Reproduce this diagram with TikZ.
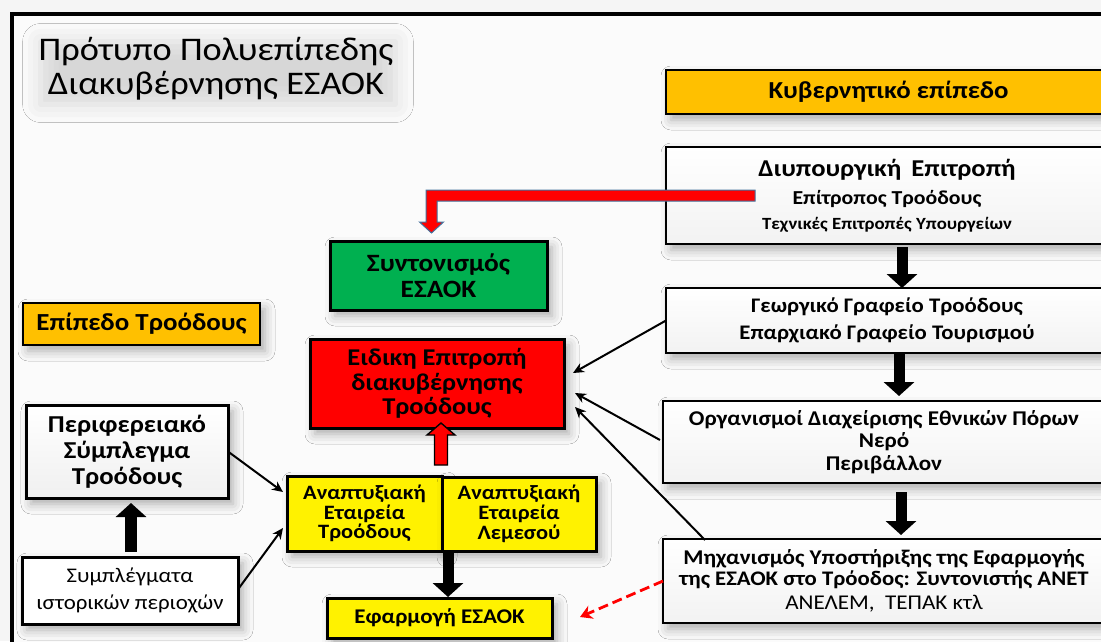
\documentclass[tikz,border=0pt]{standalone}
\usepackage{fontspec}
\setmainfont{Carlito}[FakeStretch=1.1]
\usetikzlibrary{arrows.meta,shadows.blur,calc}
\definecolor{govorange}{HTML}{FFC000}
\definecolor{esgreen}{HTML}{00B050}
\definecolor{outlineblue}{HTML}{41719C}
\newcommand{\fsz}[1]{\fontsize{#1}{#1}\selectfont}
\begin{document}
\begin{tikzpicture}[x=1pt,y=-1pt,
  shd/.style={blur shadow={shadow xshift=5pt,shadow yshift=-6pt,shadow blur radius=10pt,shadow opacity=32}},
  rbox/.style={draw,line width=1.1pt,outer sep=0pt,top color=white,bottom color=gray!10,anchor=north west,align=center,inner sep=0pt,shd},
  tbox/.style={draw,line width=3pt,outer sep=0pt,anchor=north west,align=center,inner sep=0pt,shd},
  obox/.style={draw,line width=1.4pt,outer sep=0pt,fill=govorange,anchor=north west,align=center,inner sep=0pt,shd},
  thinarrow/.style={line width=2pt,-{Stealth[length=11pt,width=10pt]}},
  blockarrow/.style={line width=11pt,-{Triangle[length=14pt,width=30pt]}},
]
\useasboundingbox (0,0) rectangle (1101,641);
\clip (0,0) rectangle (1101,641);
\fill[gray!8] (0,0) rectangle (1101,641);
\fill[gray!3] (12,14) rectangle (1130,660);
\draw[line width=4pt] (12,14) rectangle (1130,660);

% title
\node[align=center,inner sep=0pt,font=\fsz{33},blur shadow={shadow xshift=2pt,shadow yshift=-4pt,shadow blur radius=18pt,shadow opacity=14}] (title) at (216,69)
  {Πρότυπο Πολυεπίπεδης\\[1pt]Διακυβέρνησης ΕΣΑΟΚ};

% government level (right column)
\node[obox,minimum width=445,minimum height=44,font=\fsz{24.4}\bfseries] (kyv) at (666,70)
  {Κυβερνητικό επίπεδο};
\node[rbox,minimum width=442,minimum height=97] (diy) at (666,147)
  {\fsz{24.2}\bfseries Διυπουργική\, Επιτροπή\\[9pt]
   \fsz{19.8}\bfseries Επίτροπος Τροόδους\\[9pt]
   \fsz{17.1}\bfseries Τεχνικές Επιτροπές Υπουργείων};
\node[rbox,minimum width=442,minimum height=65,font=\fsz{20.7}\bfseries] (geo) at (666,288)
  {Γεωργικό Γραφείο Τροόδους\\[6.3pt]Επαρχιακό Γραφείο Τουρισμού};
\node[rbox,minimum width=442,minimum height=82,font=\fsz{21}\bfseries] (org) at (663,401)
  {Οργανισμοί Διαχείρισης Εθνικών Πόρων\\[1.5pt]Νερό\\[1.5pt]Περιβάλλον};
\node[rbox,minimum width=442,minimum height=84] (mech) at (663,539)
  {\fsz{21}\bfseries Μηχανισμός Υποστήριξης της Εφαρμογής\\[1.3pt]
   \fsz{20.7}\bfseries της ΕΣΑΟΚ στο Τρόοδος: Συντονιστής ΑΝΕΤ\\[6pt]
   \fsz{21}ΑΝΕΛΕΜ,\ \ ΤΕΠΑΚ κτλ};

% Troodos level (left)
\node[obox,minimum width=237,minimum height=42,font=\fsz{24.5}\bfseries] (epi) at (23,303)
  {Επίπεδο Τροόδους};
\node[tbox,fill=esgreen,minimum width=217,minimum height=69,font=\fsz{24.9}\bfseries] (syn) at (330,241)
  {Συντονισμός\\[1pt]ΕΣΑΟΚ};
\node[tbox,fill=red,minimum width=254,minimum height=89,font=\fsz{24.1}\bfseries] (eid) at (310,339)
  {Ειδικη Επιτροπή\\[0.4pt]διακυβέρνησης\\[0.4pt]Τροόδους};
\node[tbox,top color=white,bottom color=gray!12,minimum width=202,minimum height=93,font=\fsz{24.3}\bfseries] (per) at (26,405)
  {Περιφερειακό\\[1.7pt]Σύμπλεγμα\\[1.7pt]Τροόδους};
\node[tbox,fill=white,minimum width=216,minimum height=67,font=\fsz{20.8}] (sym) at (22,557)
  {Συμπλέγματα\\[6.2pt]ιστορικών περιοχών};
\node[tbox,fill=yellow,minimum width=155,minimum height=75,font=\fsz{20.4}\bfseries] (yl) at (287,476)
  {Αναπτυξιακή\\[-0.6pt]Εταιρεία\\[-0.6pt]Τροόδους};
\node[tbox,fill=yellow,minimum width=154,minimum height=74,font=\fsz{20.4}\bfseries] (yr) at (442,477)
  {Αναπτυξιακή\\[-0.6pt]Εταιρεία\\[-0.6pt]Λεμεσού};
\node[tbox,fill=yellow,minimum width=225,minimum height=40,font=\fsz{20.9}\bfseries] (efa) at (327,598)
  {Εφαρμογή ΕΣΑΟΚ};

% block arrows in right column
\coordinate (a1) at ($(diy.south)+(15,3)$);
\draw[blockarrow] (a1) -- (a1 |- geo.north);
\coordinate (a2) at ($(geo.south)+(12,1)$);
\draw[blockarrow] (a2) -- ([yshift=5pt]a2 |- org.north);
\coordinate (a3) at ($(org.south)+(17,9)$);
\draw[blockarrow] (a3) -- ([yshift=4pt]a3 |- mech.north);
% block arrows on the left
\coordinate (a4) at ($(sym.north)+(1,-5)$);
\draw[line width=12pt,-{Triangle[length=14pt,width=30pt]}] (a4) -- ([yshift=-5pt]a4 |- per.south);
\coordinate (a5) at ($(yl.south east)+(6,2)$);
\draw[blockarrow] (a5) -- ([yshift=1pt]a5 |- efa.north);

% red up arrow (Anaptyxiaki -> Eidiki)
\coordinate (ru) at ($(eid.south)+(4,0)$);
\draw[fill=red,line width=1.4pt,line join=miter]
  ($(ru)+(-6.5,37)$) -- ($(ru)+(-6.5,7)$) -- ($(ru)+(-14,7)$) -- ($(ru)+(0,-5)$)
  -- ($(ru)+(14,7)$) -- ($(ru)+(6.5,7)$) -- ($(ru)+(6.5,37)$) -- cycle;

% bent red arrow (Diyp. -> Syntonismos)
\coordinate (bs) at ($(diy.north west)+(89,43)$);
\coordinate (bt) at ($(syn.north)+(-7,-8)$);
\draw[fill=red,draw=outlineblue,line width=1pt,line join=miter]
  (bs) -- ($(bt)+(-5.5,-43)$) -- ($(bt)+(-5.5,-11)$) -- ($(bt)+(-12,-11)$) -- (bt)
  -- ($(bt)+(12,-11)$) -- ($(bt)+(5.5,-11)$) -- ($(bt)+(5.5,-32)$) -- ($(bs)+(0,11)$) -- cycle;

% thin arrows
\draw[thinarrow] (per.east) -- ($(yl.west)+(-4,-21.5)$);
\draw[thinarrow] ($(sym.east)+(1,-2.5)$) -- ($(yl.west)+(-4,14.5)$);
\draw[thinarrow] (geo.west) -- ($(eid.east)+(9,-10.5)$);
\draw[thinarrow] ($(org.west)+(-3,-2)$) -- ($(eid.east)+(11,9.5)$);
\draw[thinarrow] ($(mech.north west)+(42,1)$) -- ($(eid.east)+(11,23.5)$);
\draw[red,line width=2.8pt,dash pattern=on 10pt off 5pt,-{Stealth[length=12pt,width=14pt]}] (mech.west) -- ($(efa.east)+(28,-1)$);
\end{tikzpicture}
\end{document}
